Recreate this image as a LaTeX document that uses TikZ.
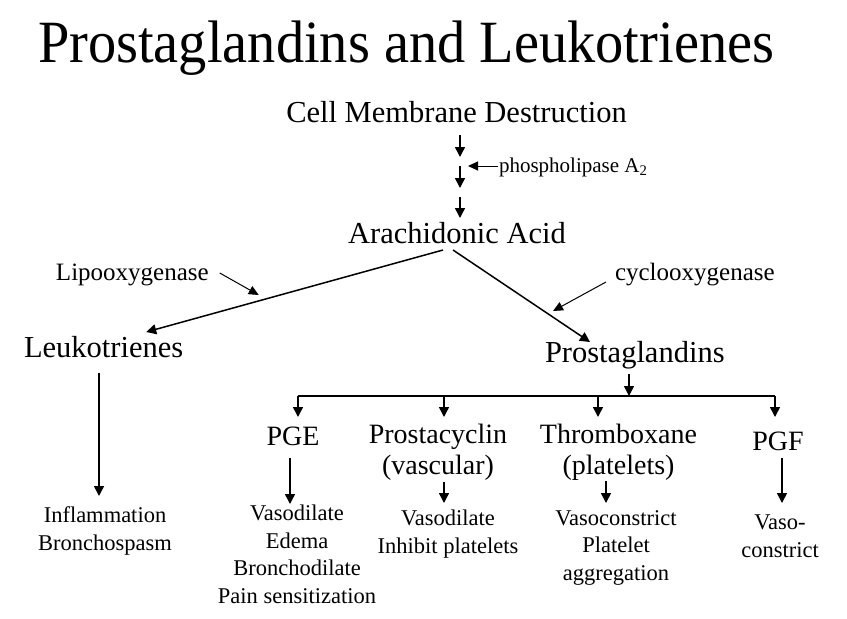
\documentclass[tikz,border=0pt]{standalone}
\usepackage{fontspec}
\setmainfont{Liberation Serif}
\usetikzlibrary{arrows.meta}

\begin{document}
\begin{tikzpicture}[x=1pt,y=-1pt,
    every node/.style={inner sep=0pt,outer sep=0pt},
    headline/.style={font=\fontsize{30.5}{34}\selectfont,anchor=base},
    sublabel/.style={font=\fontsize{28}{31}\selectfont,anchor=base,align=center},
    enzyme/.style={font=\fontsize{25}{28}\selectfont,anchor=base west},
    effect/.style={font=\fontsize{22.5}{27.5}\selectfont,anchor=base,align=center},
    arr/.style={line width=1.5pt,-{Triangle[length=10pt,width=10pt]}},
    thinarr/.style={line width=1pt,-{Triangle[length=10pt,width=9pt]}}]
        \useasboundingbox (0,0) rectangle (847,619);

        % title
        \node[anchor=base west,font=\fontsize{60}{64}\selectfont] (title) at (38,62) {\scalebox{0.94}[1]{Prostaglandins and Leukotrienes}};

        % membrane to arachidonic acid
        \node[headline] (cell) at (456.5,122) {Cell Membrane Destruction};
        \node[headline] (arach) at (457,243) {Arachidonic Acid};
        \node[anchor=base west,font=\fontsize{21}{24}\selectfont] (phos) at (499,172) {phospholipase A\textsubscript{2}};
        \draw[arr] ([shift={(3.5,13)}]cell.base) -- ++(0,22);
        \draw[arr] ([shift={(3,-77)}]arach.base) -- ++(0,22);
        \draw[arr] ([shift={(3,-46)}]arach.base) -- ++(0,21);
        \draw[thinarr] ([shift={(-1,-6)}]phos.base west) -- ++(-30,0);

        % the two pathways
        \node[headline,anchor=base west] (leuko) at (24,357) {Leukotrienes};
        \node[headline,anchor=base west] (prosta) at (545,362) {Prostaglandins};
        \node[enzyme] (lipo) at (56,280) {Lipooxygenase};
        \node[enzyme] (cyclo) at (615,280) {cyclooxygenase};
        \draw[arr] ([shift={(-14,7)}]arach.base) -- ([shift={(-37,-25)}]leuko.base east);
        \draw[arr] ([shift={(-4,7)}]arach.base) -- ([shift={(45,-20)}]prosta.base west);
        \draw[thinarr] ([shift={(11,-7)}]lipo.base east) -- ++(39,22);
        \draw[thinarr] ([shift={(-9,2)}]cyclo.base west) -- ++(-53,29);

        % leukotriene effects (base = last line)
        \node[effect] (leff) at (105,550) {Inflammation\\Bronchospasm};
        \draw[arr] ([shift={(75,16)}]leuko.base west) -- ([shift={(-6,-54)}]leff.base);

        % prostaglandin classes
        \node[sublabel] (pge) at (293,445) {PGE};
        \node[sublabel] (pgi) at (438,474) {Prostacyclin\\(vascular)};
        \node[sublabel] (txa) at (618.5,474) {Thromboxane\\(platelets)};
        \node[sublabel] (pgf) at (778,450) {PGF};
        \draw[arr] ([shift={(84,12)}]prosta.base west) -- ++(0,22);
        \draw[line width=1.5pt] ([shift={(5,-49)}]pge.base) -- ([shift={(-3,-54)}]pgf.base);
        \draw[arr] ([shift={(5,-49)}]pge.base) -- ([shift={(5,-28)}]pge.base);
        \draw[arr] ([shift={(6,-78)}]pgi.base) -- ([shift={(6,-57)}]pgi.base);
        \draw[arr] ([shift={(-20.5,-78)}]txa.base) -- ([shift={(-20.5,-57)}]txa.base);
        \draw[arr] ([shift={(-3,-54)}]pgf.base) -- ([shift={(-3,-33)}]pgf.base);

        % effects of each class
        \node[effect] (pgeeff) at (297,603) {Vasodilate\\Edema\\Bronchodilate\\Pain sensitization};
        \node[effect] (pgieff) at (448,553) {Vasodilate\\Inhibit platelets};
        \node[effect] (txaeff) at (616,580) {Vasoconstrict\\Platelet\\aggregation};
        \node[effect] (pgfeff) at (780,557) {Vaso-\\constrict};
        \draw[arr] ([shift={(-3,13)}]pge.base) -- ([shift={(-7,-99)}]pgeeff.base);
        \draw[arr] ([shift={(6,8)}]pgi.base) -- ([shift={(-4,-50)}]pgieff.base);
        \draw[arr] ([shift={(-12.5,7)}]txa.base) -- ([shift={(-10,-77)}]txaeff.base);
        \draw[arr] ([shift={(4,8)}]pgf.base) -- ([shift={(2,-54)}]pgfeff.base);
    \end{tikzpicture}
\end{document}
